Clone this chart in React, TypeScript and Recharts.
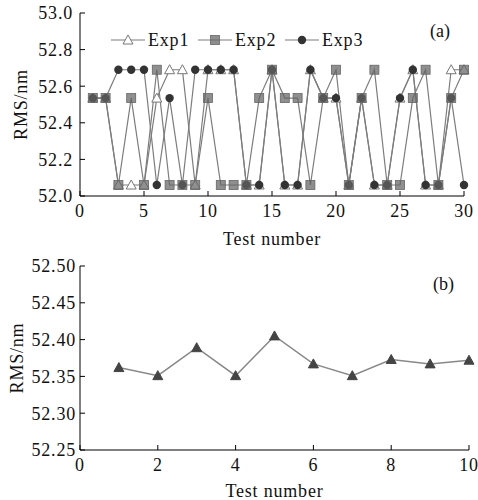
import { LineChart, Line, XAxis, YAxis } from "recharts";

// test numbers and RMS values (nm)
const testsA = [1, 2, 3, 4, 5, 6, 7, 8, 9, 10, 11, 12, 13, 14, 15, 16, 17, 18, 19, 20, 21, 22, 23, 24, 25, 26, 27, 28, 29, 30];
const exp1 = [52.535, 52.535, 52.06, 52.06, 52.06, 52.535, 52.69, 52.69, 52.06, 52.69, 52.69, 52.69, 52.06, 52.06, 52.69, 52.06, 52.06, 52.69, 52.535, 52.535, 52.06, 52.535, 52.06, 52.06, 52.535, 52.69, 52.06, 52.06, 52.69, 52.69];
const exp2 = [52.535, 52.535, 52.06, 52.535, 52.06, 52.69, 52.06, 52.06, 52.06, 52.535, 52.06, 52.06, 52.06, 52.535, 52.69, 52.535, 52.535, 52.06, 52.535, 52.69, 52.06, 52.535, 52.69, 52.06, 52.06, 52.535, 52.69, 52.06, 52.535, 52.69];
const exp3 = [52.535, 52.535, 52.69, 52.69, 52.69, 52.06, 52.535, 52.06, 52.69, 52.69, 52.69, 52.69, 52.06, 52.06, 52.69, 52.06, 52.06, 52.69, 52.535, 52.535, 52.06, 52.535, 52.06, 52.06, 52.535, 52.69, 52.06, 52.06, 52.535, 52.06];
const seriesNames = ["Exp1", "Exp2", "Exp3"];

const testsB = [1, 2, 3, 4, 5, 6, 7, 8, 9, 10];
const avgB = [52.362, 52.351, 52.389, 52.351, 52.405, 52.367, 52.351, 52.373, 52.367, 52.372];

const xTicksA = [0, 5, 10, 15, 20, 25, 30];
const yTicksA = [52.0, 52.2, 52.4, 52.6, 52.8, 53.0];
const xTicksB = [0, 2, 4, 6, 8, 10];
const yTicksB = [52.25, 52.3, 52.35, 52.4, 52.45, 52.5];

const dataA = testsA.map((t, i) => ({ test: t, exp1: exp1[i], exp2: exp2[i], exp3: exp3[i] }));
const dataB = testsB.map((t, i) => ({ test: t, rms: avgB[i] }));

const FONT = "'Liberation Serif', 'Times New Roman', serif";
const LINE = "#7c7c7c";
const LS = 0.8;

const Tri = (props: any) => {
  const { cx, cy, fill, stroke } = props;
  if (cx == null || cy == null) return null;
  const s = 5;
  return <polygon points={`${cx},${cy - s} ${cx - s},${cy + s * 0.8} ${cx + s},${cy + s * 0.8}`} fill={fill} stroke={stroke} strokeWidth={1} />;
};

const Sq = (props: any) => {
  const { cx, cy } = props;
  if (cx == null || cy == null) return null;
  return <rect x={cx - 4.5} y={cy - 4.5} width={9} height={9} fill="rgba(100,100,100,0.72)" stroke="#666" strokeWidth={0.8} />;
};

const Dot = (props: any) => {
  const { cx, cy } = props;
  if (cx == null || cy == null) return null;
  return <circle cx={cx} cy={cy} r={4.2} fill="#333" />;
};

const makeXTick = (margin: number) => (props: any) => {
  const { x, y, payload } = props;
  return (
    <g>
      <line x1={x} x2={x} y1={y - margin} y2={y - margin - 5} stroke="#000" />
      <text x={x} y={y} dy="0.71em" textAnchor="middle" fontFamily={FONT} fontSize={18} letterSpacing={LS} fill="#111">
        {payload.value}
      </text>
    </g>
  );
};

const makeYTick = (margin: number, digits: number) => (props: any) => {
  const { x, y, payload } = props;
  return (
    <g>
      <line x1={x + margin} x2={x + margin + 5} y1={y} y2={y} stroke="#000" />
      <text x={x} y={y} dy="0.35em" textAnchor="end" fontFamily={FONT} fontSize={18} letterSpacing={LS} fill="#111">
        {Number(payload.value).toFixed(digits)}
      </text>
    </g>
  );
};

const makeYLabel = (px: number) => (props: any) => {
  const vb = props.viewBox || {};
  const cy = (vb.y ?? 0) + (vb.height ?? 0) / 2;
  return (
    <text x={px} y={cy} transform={`rotate(-90, ${px}, ${cy})`} textAnchor="middle" fontFamily={FONT} fontSize={18} letterSpacing={LS} fill="#111">
      RMS/nm
    </text>
  );
};

const legendIcons = [
  <Tri cx={17} cy={8} fill="#fff" stroke="#777" />,
  <Sq cx={17} cy={8} />,
  <Dot cx={17} cy={8} />,
];

const App = () => {
  return (
    <div style={{ position: "absolute", left: 0, top: 0, width: 478, height: 500, background: "#fff", fontFamily: FONT }}>
      <div style={{ position: "relative", width: 478, height: 250 }}>
        <LineChart width={478} height={250} data={dataA} margin={{ top: 13, right: 14, bottom: 0, left: 0 }}>
          <XAxis dataKey="test" type="number" domain={[0, 30]} ticks={xTicksA} stroke="#000" tickLine={false} tickSize={0} tickMargin={8} height={54}
            tick={makeXTick(8)} label={{ value: "Test number", position: "insideBottom", offset: 5, fontFamily: FONT, fontSize: 18, letterSpacing: LS, fill: "#111" }} />
          <XAxis xAxisId="top" orientation="top" type="number" domain={[0, 30]} tick={false} tickLine={false} height={0} stroke="#000" />
          <YAxis type="number" domain={[52.0, 53.0]} ticks={yTicksA} stroke="#000" tickLine={false} tickSize={0} tickMargin={7} width={80}
            tick={makeYTick(7, 1)} label={makeYLabel(27)} />
          <YAxis yAxisId="right" orientation="right" type="number" domain={[0, 1]} tick={false} tickLine={false} width={0} stroke="#000" />
          <Line dataKey="exp1" name={seriesNames[0]} stroke={LINE} strokeWidth={1.2} dot={<Tri fill="#fff" stroke="#777" />} isAnimationActive={false} />
          <Line dataKey="exp3" name={seriesNames[2]} stroke={LINE} strokeWidth={1.2} dot={<Dot />} isAnimationActive={false} />
          <Line dataKey="exp2" name={seriesNames[1]} stroke={LINE} strokeWidth={1.2} dot={<Sq />} isAnimationActive={false} />
        </LineChart>
        <div style={{ position: "absolute", left: 111, top: 31, display: "flex", fontSize: 18, letterSpacing: LS, color: "#111", lineHeight: "18px" }}>
          {seriesNames.map((n, i) => (
            <div key={n} style={{ display: "flex", alignItems: "center", marginRight: 8 }}>
              <svg width={34} height={16} style={{ marginRight: 3 }}>
                <line x1={0} x2={34} y1={8} y2={8} stroke={LINE} strokeWidth={1.2} />
                {legendIcons[i]}
              </svg>
              <span style={{ width: 42 }}>{n}</span>
            </div>
          ))}
        </div>
        <div style={{ position: "absolute", left: 430, top: 21, fontSize: 18, color: "#111" }}>(a)</div>
      </div>
      <div style={{ position: "relative", width: 478, height: 250 }}>
        <LineChart width={478} height={250} data={dataB} margin={{ top: 16, right: 9, bottom: 0, left: 0 }}>
          <XAxis dataKey="test" type="number" domain={[0, 10]} ticks={xTicksB} stroke="#000" tickLine={false} tickSize={0} tickMargin={8} height={50}
            tick={makeXTick(8)} label={{ value: "Test number", position: "insideBottom", offset: 3, fontFamily: FONT, fontSize: 18, letterSpacing: LS, fill: "#111" }} />
          <XAxis xAxisId="top" orientation="top" type="number" domain={[0, 10]} tick={false} tickLine={false} height={0} stroke="#000" />
          <YAxis type="number" domain={[52.25, 52.5]} ticks={yTicksB} stroke="#000" tickLine={false} tickSize={0} tickMargin={4} width={80}
            tick={makeYTick(4, 2)} label={makeYLabel(23)} />
          <YAxis yAxisId="right" orientation="right" type="number" domain={[0, 1]} tick={false} tickLine={false} width={0} stroke="#000" />
          <Line dataKey="rms" stroke="#888" strokeWidth={1.5} dot={<Tri fill="#444" stroke="#444" />} isAnimationActive={false} />
        </LineChart>
        <div style={{ position: "absolute", left: 433, top: 24, fontSize: 18, color: "#111" }}>(b)</div>
      </div>
    </div>
  );
};

export default App;
